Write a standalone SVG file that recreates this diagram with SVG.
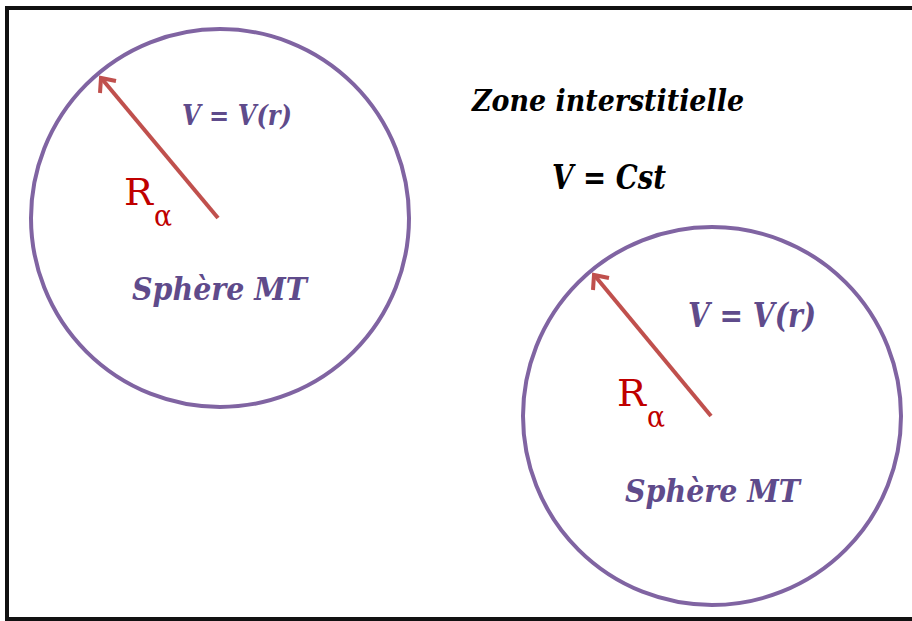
<svg xmlns="http://www.w3.org/2000/svg" width="912" height="621" viewBox="0 0 912 621">
<defs>
<style>
text{font-family:'DejaVu Serif',serif}
.sph{fill:none;stroke:#8064A2;stroke-width:4}
.rad{fill:none;stroke:#C0504D;stroke-width:4;stroke-linecap:butt}
.lbl{font-weight:bold;font-style:italic;fill:#5F4B8B}
.blk{font-weight:bold;font-style:italic;fill:#000}
.r{fill:#C00000}
</style>
</defs>
<rect x="7" y="8" width="920" height="611" fill="#fff" stroke="#111" stroke-width="4"/>
<g id="connectors">
<path class="rad" d="M218,218 L102,79"/>
<path class="rad" d="M100,93 L101,78 L116,81"/>
<path class="rad" d="M711,416 L595,276"/>
<path class="rad" d="M593,290 L594,275 L609,278"/>
</g>
<g id="sphere1">
<circle class="sph" cx="220" cy="218" r="189"/>
<text class="lbl" x="182" y="125" font-size="28" textLength="110" lengthAdjust="spacingAndGlyphs">V = V(r)</text>
<text class="r" x="124" y="205" font-size="38" textLength="29" lengthAdjust="spacingAndGlyphs">R</text>
<text class="r" x="154" y="226" font-size="30" textLength="18" lengthAdjust="spacingAndGlyphs">α</text>
<text class="lbl" x="132" y="300" font-size="32" textLength="175" lengthAdjust="spacingAndGlyphs">Sphère MT</text>
</g>
<g id="sphere2">
<circle class="sph" cx="712" cy="416" r="189"/>
<text class="lbl" x="688" y="327" font-size="34" textLength="128" lengthAdjust="spacingAndGlyphs">V = V(r)</text>
<text class="r" x="617" y="406" font-size="38" textLength="29" lengthAdjust="spacingAndGlyphs">R</text>
<text class="r" x="647" y="427" font-size="30" textLength="18" lengthAdjust="spacingAndGlyphs">α</text>
<text class="lbl" x="625" y="502" font-size="32" textLength="175" lengthAdjust="spacingAndGlyphs">Sphère MT</text>
</g>
<g id="zone">
<text class="blk" x="472" y="111" font-size="30" textLength="272" lengthAdjust="spacingAndGlyphs">Zone interstitielle</text>
<text class="blk" x="552" y="189" font-size="33" textLength="114" lengthAdjust="spacingAndGlyphs">V = Cst</text>
</g>
</svg>
